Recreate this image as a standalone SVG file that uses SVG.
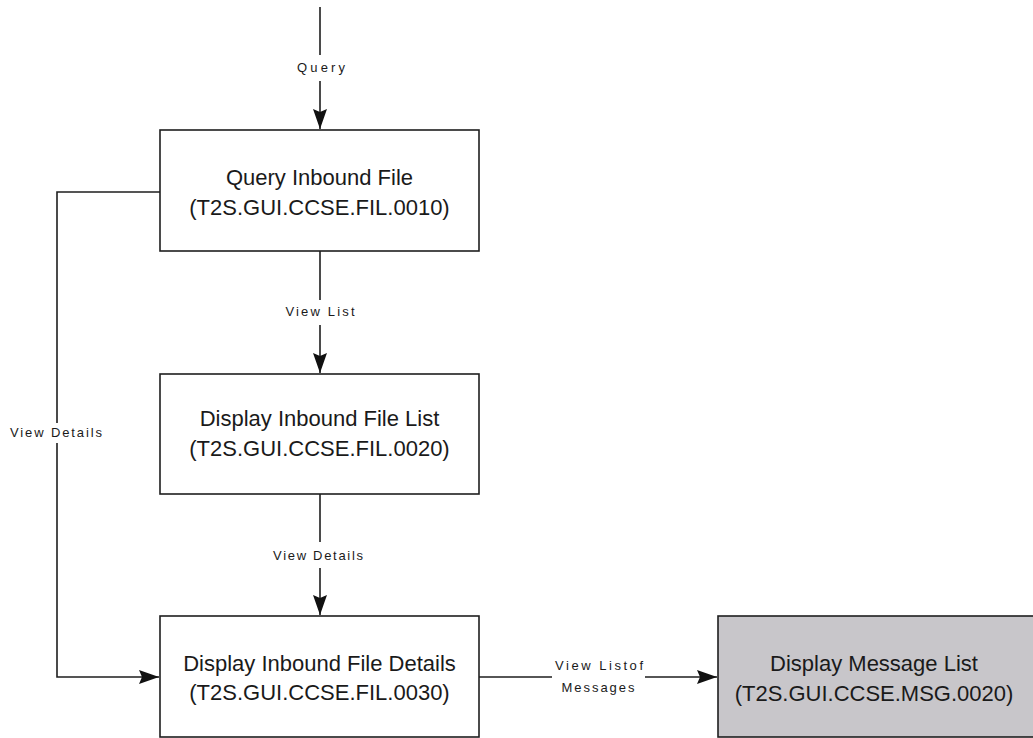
<svg xmlns="http://www.w3.org/2000/svg" width="1033" height="738" viewBox="0 0 1033 738">
  <style>
    .box { fill: #ffffff; stroke: #1e1e1e; stroke-width: 1.6; }
    .grey { fill: #c8c6ca; }
    .t { font-family: "Liberation Sans", Arial, sans-serif; font-size: 22px; fill: #1a1a1a; text-anchor: middle; }
    .lbl { font-family: "Liberation Sans", Arial, sans-serif; font-size: 13px; fill: #1a1a1a; text-anchor: middle; }
    .ln { fill: none; stroke: #1e1e1e; stroke-width: 1.6; }
  </style>
  <defs>
    <marker id="arr" viewBox="0 0 20 14" refX="20" refY="7" markerWidth="20" markerHeight="14" markerUnits="userSpaceOnUse" orient="auto">
      <path d="M0,0 L20,7 L0,14 L3,7 Z" fill="#111111"/>
    </marker>
  </defs>
  <rect width="1033" height="738" fill="#ffffff"/>

  <g id="connectors">
    <path class="ln" d="M320,7 V55"/>
    <path class="ln" d="M320,81 V129" marker-end="url(#arr)"/>
    <text class="lbl" x="321" y="72" textLength="48" lengthAdjust="spacing">Query</text>

    <path class="ln" d="M320,251 V300"/>
    <path class="ln" d="M320,325 V373" marker-end="url(#arr)"/>
    <text class="lbl" x="320" y="316" textLength="69" lengthAdjust="spacing">View List</text>

    <path class="ln" d="M320,494 V542"/>
    <path class="ln" d="M320,568 V615" marker-end="url(#arr)"/>
    <text class="lbl" x="318" y="560" textLength="90" lengthAdjust="spacing">View Details</text>

    <path class="ln" d="M160,192 H57 V423"/>
    <path class="ln" d="M57,443 V677 H159" marker-end="url(#arr)"/>
    <text class="lbl" x="56" y="437" textLength="92" lengthAdjust="spacing">View Details</text>

    <path class="ln" d="M479,677 H552"/>
    <path class="ln" d="M645,677 H717" marker-end="url(#arr)"/>
    <text class="lbl" x="599" y="670" textLength="88" lengthAdjust="spacing">View Listof</text>
    <text class="lbl" x="598" y="692" textLength="73" lengthAdjust="spacing">Messages</text>
  </g>

  <g id="node-fil0010">
    <rect class="box" x="160" y="130" width="319" height="121"/>
    <text class="t" x="319.5" y="185">Query Inbound File</text>
    <text class="t" x="319.5" y="215">(T2S.GUI.CCSE.FIL.0010)</text>
  </g>

  <g id="node-fil0020">
    <rect class="box" x="160" y="374" width="319" height="120"/>
    <text class="t" x="319.5" y="426">Display Inbound File List</text>
    <text class="t" x="319.5" y="456">(T2S.GUI.CCSE.FIL.0020)</text>
  </g>

  <g id="node-fil0030">
    <rect class="box" x="160" y="616" width="319" height="121"/>
    <text class="t" x="319.5" y="671">Display Inbound File Details</text>
    <text class="t" x="319.5" y="700">(T2S.GUI.CCSE.FIL.0030)</text>
  </g>

  <g id="node-msg0020">
    <rect class="box grey" x="718" y="616" width="320" height="121"/>
    <text class="t" x="874" y="671">Display Message List</text>
    <text class="t" x="874" y="701">(T2S.GUI.CCSE.MSG.0020)</text>
  </g>
</svg>
